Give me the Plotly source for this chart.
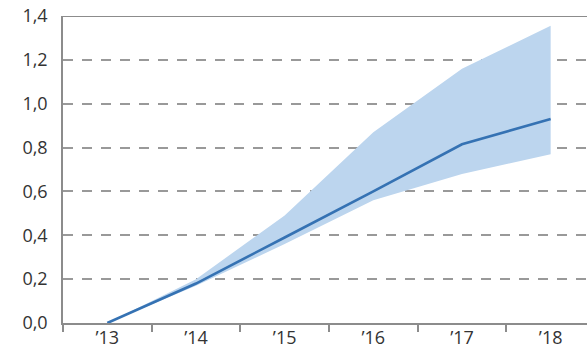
import plotly.graph_objects as go

# Years on the horizontal axis and the projected path with its uncertainty band
years = ["’13", "’14", "’15", "’16", "’17", "’18"]
central = [0.0, 0.18, 0.39, 0.60, 0.815, 0.93]
upper = [0.0, 0.20, 0.49, 0.87, 1.16, 1.355]
lower = [0.0, 0.17, 0.36, 0.56, 0.68, 0.77]
y_ticks = [0.0, 0.2, 0.4, 0.6, 0.8, 1.0, 1.2, 1.4]

idx = list(range(len(years)))

fig = go.Figure()

# shaded band: upper edge then lower edge reversed
fig.add_trace(go.Scatter(
    x=idx + idx[::-1],
    y=upper + lower[::-1],
    fill="toself",
    fillcolor="#bcd5ee",
    line=dict(width=0),
    mode="lines",
    hoverinfo="skip",
    showlegend=False,
))

fig.add_trace(go.Scatter(
    x=idx, y=central,
    mode="lines",
    line=dict(color="#3572b3", width=2.6),
    showlegend=False,
))

# solid frame line along the top of the plot area
fig.add_shape(type="line", xref="paper", yref="y", x0=0, x1=1, y0=1.4, y1=1.4,
              line=dict(color="#8c8c8c", width=2), layer="above")

fig.update_layout(
    width=587, height=350,
    margin=dict(l=63, r=0, t=16, b=27),
    paper_bgcolor="white", plot_bgcolor="white",
    separators=", ",
    font=dict(family="Open Sans", size=18, color="#333333"),
    xaxis=dict(
        range=[-0.5, 5.41],
        tickmode="array", tickvals=idx, ticktext=years,
        ticks="", showgrid=False, zeroline=False,
        showline=True, linecolor="#8c8c8c", linewidth=1.5,
        minor=dict(tick0=-0.5, dtick=1, ticks="outside", ticklen=7,
                   tickcolor="#8c8c8c", tickwidth=1.5, showgrid=False),
        ticklabelstandoff=-2,
        automargin=False,
        fixedrange=True,
    ),
    yaxis=dict(
        range=[0, 1.4],
        tickmode="array", tickvals=y_ticks, tickformat=".1f",
        showgrid=True, gridcolor="#999999", gridwidth=2, griddash="10px,9px",
        zeroline=False,
        showline=True, linecolor="#8c8c8c", linewidth=1.5,
        ticks="", ticklabelstandoff=10,
        automargin=False,
        fixedrange=True,
    ),
)

fig.write_html("out.html")
